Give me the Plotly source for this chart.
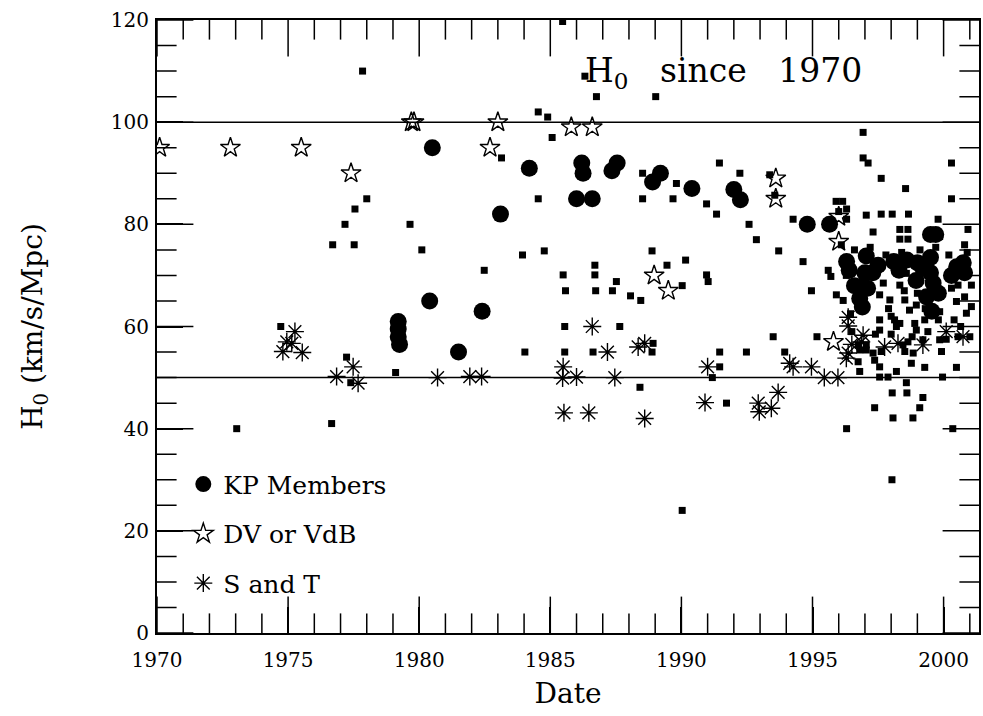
import plotly.graph_objects as go

# ---- data ----
others_x = [1977.84, 1978.0, 1977.55, 1977.17, 1979.65, 1976.7, 1977.52, 1980.1, 1974.72, 1977.23,
            1977.39, 1979.1, 1976.66, 1973.04, 1985.47, 1986.32, 1986.76, 1989.02, 1984.54, 1984.9,
            1985.07, 1983.14, 1984.54, 1988.52, 1988.52, 1989.68, 1989.81, 1990.96, 1991.34, 1991.45,
            1992.23, 1992.58, 1996.93, 1996.93, 1997.12, 1997.62, 1998.55, 2000.3, 2000.3, 1997.31,
            1997.62, 1998.04, 1998.66, 1997.05, 1999.79, 2000.93, 1994.26, 1993.37, 1993.56, 1998.33,
            1998.64, 1998.33, 1998.64, 2000.8, 1996.1, 1994.64, 1995.6, 1996.29, 1998.58, 1994.96,
            1995.91, 1996.17, 1996.55, 1997.56, 1997.95, 1998.52, 1998.33, 1998.96, 1999.85, 2000.49,
            2000.8, 2001.06, 1997.56, 1998.13, 1998.33, 1998.9, 1999.28, 2001.06, 1995.17, 1996.74,
            1997.05, 1997.31, 1997.62, 1998.52, 1996.74, 1997.37, 1997.56, 1998.77, 1999.28, 1999.92,
            2000.49, 1996.8, 1997.56, 1997.88, 1998.2, 1998.58, 1999.96, 1998.04, 1998.6, 1999.21,
            1997.37, 1999.09, 1998.07, 1998.83, 1996.3, 2000.35, 1998.03, 1991.72, 1990.03, 1992.86,
            1993.71, 1990.96, 1991.02, 1993.5, 1991.46, 1992.48, 1993.94, 1991.46, 1991.18, 1983.94,
            1984.77, 1982.48, 1985.49, 1985.58, 1986.7, 1986.7, 1986.73, 1987.52, 1987.37, 1988.06,
            1988.45, 1988.88, 1989.45, 1990.16, 1990.03, 1985.55, 1987.65, 1984.03, 1985.55, 1986.63,
            1988.92, 1988.88, 1988.42, 1995.7, 1998.0, 1998.7, 1999.8, 2000.4, 2000.55, 2000.87,
            1997.56, 1998.2, 1998.96, 1999.21, 1999.85, 1998.45, 1998.64, 1996.8, 1998.84, 1997.05,
            2000.55, 2001.0, 1999.85, 1995.9, 1996.15, 1996.3, 1996.0, 1996.3,
            1996.6, 1997.2, 1997.8, 1998.4, 1999.1, 1999.7, 2000.2, 2000.9, 1996.5, 1997.4,
            1998.0, 1998.8, 1999.4, 2000.1, 2000.65, 1996.9, 1997.7, 1998.5, 1999.0, 1999.6,
            2000.3, 1996.45, 1997.9, 1999.3]
others_y = [110, 85, 83, 80, 80, 76, 76, 75, 60, 54,
            49, 51, 41, 40, 119.7, 109, 105, 105, 102, 101,
            97, 93, 85, 90, 85, 85, 88, 84, 82, 92,
            90, 80, 98, 93, 92, 89, 87, 92, 85, 78.5,
            82, 82, 82, 81.8, 81, 79, 81, 89.7, 85.7, 79,
            79, 77.1, 77.1, 76, 76, 72.7, 71, 70, 70.4, 67,
            66.2, 65.1, 68.5, 66.2, 65.2, 65.2, 68.1, 64.2, 62.9, 64.9,
            65.8, 63.9, 61.3, 61.3, 60.6, 60.6, 61.3, 68.1, 58, 56.4,
            55.4, 54.8, 55.1, 55.1, 53.1, 53.4, 52.1, 52.8, 52, 55.1,
            52, 51.2, 50.1, 50.1, 51.2, 49, 50.1, 47, 47, 46.1,
            44.1, 44.1, 42.1, 42.1, 40, 40, 30, 45, 24, 77,
            74.8, 70.1, 68.8, 58, 55, 55, 55, 52.1, 50, 74,
            74.8, 71, 70.1, 67, 72, 70.1, 67, 68.8, 67, 66,
            65.1, 74.8, 72, 73, 68, 60, 60, 55, 55, 55,
            56.7, 55, 48.1, 69.8, 62, 63.2, 61.3, 61.3, 68.1, 62.6,
            59.3, 60, 59.3, 57.4, 57.4, 56.4, 57, 55.4, 54.8, 56.4,
            58, 58, 77.6, 84.5, 84.5, 83, 82.5, 81,
            75, 75.5, 74, 74.5, 75, 75.5, 74, 74.5, 59, 58.5,
            58.5, 58, 59, 57.5, 60, 69, 68.5, 67, 66.5, 66,
            67.5, 62.5, 63.5, 63.5]

kp_x = [1979.2, 1979.2, 1979.2, 1979.25, 1980.5, 1980.4, 1981.5, 1982.4, 1983.1, 1984.2,
        1986.2, 1986.25, 1986.0, 1986.6, 1987.35, 1987.55, 1988.9, 1989.2, 1990.4, 1992.0,
        1992.25, 1994.8, 1995.65, 1999.5, 1999.7, 1996.3, 1996.4, 1997.05, 1997.3, 1996.8,
        1996.9, 1997.1, 1998.1, 1998.3, 1999.0, 1999.5, 1999.5, 1999.6, 1999.35, 2000.5,
        2000.75, 2000.8, 1999.55, 1998.95, 1997.5, 1998.6, 1999.2, 2000.3, 1996.6, 1997.0,
        1999.8]
kp_y = [61, 59.5, 58, 56.5, 95, 65, 55, 63, 82, 91,
        92, 90, 85, 85, 90.5, 92, 88.3, 90, 87, 86.8,
        84.8, 80, 80, 78, 78, 72.7, 71, 73.8, 70.5, 65.5,
        63.8, 67.5, 72.7, 71, 72.5, 73.5, 70.5, 68.5, 65.8, 71.7,
        72.5, 70.5, 63, 69, 72, 73, 71.5, 70, 68, 70.5,
        66.5]

dv_x = [1970.1, 1972.8, 1975.5, 1977.4, 1979.7, 1979.8, 1982.7, 1983.0, 1985.8, 1986.6,
        1988.96, 1989.5, 1993.6, 1993.6, 1995.8, 1996.0, 1996.0]
dv_y = [95, 95, 95, 90, 100, 100, 95, 100, 99, 99,
        70, 67, 89, 85, 57, 76.6, 81.5]

st_x = [1975.26, 1974.95, 1975.14, 1974.8, 1975.54, 1976.85, 1977.48, 1977.67, 1980.7, 1981.93,
        1982.38, 1985.49, 1985.47, 1986.0, 1987.46, 1986.6, 1987.18, 1988.35, 1988.6, 1985.52,
        1986.47, 1988.6, 1991.0, 1990.9, 1994.13, 1994.26, 1994.96, 1995.45, 1995.97, 1993.69,
        1992.93, 1992.97, 1993.43, 1996.36, 1996.36, 1996.86, 1996.36, 1996.29, 1997.75, 1998.26,
        1999.21, 2000.1, 2000.74, 1996.5, 1996.93]
st_y = [59, 57, 56.7, 55.1, 54.9, 50.2, 52.1, 48.9, 50, 50.2,
        50.2, 52.1, 49.9, 50.1, 50, 60, 55, 56, 56.7, 43.1,
        43.1, 42, 52.1, 45.1, 52.8, 52.1, 52.1, 50, 50, 47.1,
        45, 43.3, 44, 61.8, 60.1, 57, 54.8, 53.8, 56, 56.7,
        56.4, 59, 58, 56.5, 58.3]

ref_lines = [100, 50]
x_range = [1970, 2001.35]
y_range = [0, 120]
x_major_step, x_minor_step = 5, 1
y_major_step, y_minor_step = 20, 5

FONT = "DejaVu Serif"
clear = "rgba(0,0,0,0)"

fig = go.Figure()

# ---- inward ticks on all four edges: line markers centred on the frame, clipped to the plot area ----
x_start, x_stop = int(x_range[0]), int(x_range[1])
x_major = [v for v in range(x_start, x_stop + 1, x_minor_step) if (v - x_start) % x_major_step == 0]
x_minor = [v for v in range(x_start, x_stop + 1, x_minor_step) if (v - x_start) % x_major_step != 0]
y_major = [v for v in range(int(y_range[0]), int(y_range[1]) + 1, y_minor_step) if v % y_major_step == 0]
y_minor = [v for v in range(int(y_range[0]), int(y_range[1]) + 1, y_minor_step) if v % y_major_step != 0]

MAJOR_SIZE, MINOR_SIZE = 52, 28   # twice the visible inner length, half is clipped away
for vals, size in ((x_major, MAJOR_SIZE), (x_minor, MINOR_SIZE)):
    fig.add_trace(go.Scatter(x=vals + vals, y=[y_range[0]] * len(vals) + [y_range[1]] * len(vals),
                             mode="markers", showlegend=False, hoverinfo="skip", cliponaxis=True,
                             marker=dict(symbol="line-ns-open", size=size, color="black",
                                         line=dict(width=1.5, color="black"))))
for vals, size in ((y_major, MAJOR_SIZE), (y_minor, MINOR_SIZE)):
    fig.add_trace(go.Scatter(x=[x_range[0]] * len(vals) + [x_range[1]] * len(vals), y=vals + vals,
                             mode="markers", showlegend=False, hoverinfo="skip", cliponaxis=True,
                             marker=dict(symbol="line-ew-open", size=size, color="black",
                                         line=dict(width=1.5, color="black"))))

# ---- data series ----
fig.add_trace(go.Scatter(x=others_x, y=others_y, mode="markers", showlegend=False,
                         marker=dict(symbol="square", size=7, color="black", line=dict(width=0))))
fig.add_trace(go.Scatter(x=kp_x, y=kp_y, mode="markers", name="KP Members", legendgroup="a",
                         marker=dict(symbol="circle", size=17, color="black", line=dict(width=0))))
fig.add_trace(go.Scatter(x=dv_x, y=dv_y, mode="markers", name="DV or VdB", legendgroup="b",
                         marker=dict(symbol="star-open", size=15, color="black",
                                     line=dict(width=1.4, color="black"))))
fig.add_trace(go.Scatter(x=st_x, y=st_y, mode="markers", name="S and T", legendgroup="c",
                         marker=dict(symbol="asterisk-open", size=15, color="black",
                                     line=dict(width=1.4, color="black"))))

for v in ref_lines:
    fig.add_hline(y=v, line=dict(color="black", width=1.5), layer="below")

tickfont = dict(family=FONT, size=20, color="black")

fig.update_xaxes(range=x_range, tickmode="linear", tick0=1970, dtick=x_major_step,
                 ticks="inside", ticklen=26, tickwidth=1.5, tickcolor="black",
                 ticklabelstandoff=8,
                 showline=True, linecolor="black", linewidth=2, mirror=True,
                 showgrid=False, zeroline=False, tickfont=tickfont, layer="above traces",
                 automargin=False,
                 title=dict(text="Date", font=dict(family=FONT, size=28, color="black"), standoff=12))
fig.update_yaxes(range=y_range, tickmode="linear", tick0=0, dtick=y_major_step,
                 ticks="inside", ticklen=26, tickwidth=1.5, tickcolor="black",
                 ticklabelstandoff=2,
                 showline=True, linecolor="black", linewidth=2, mirror=True,
                 showgrid=False, zeroline=False, tickfont=tickfont, layer="above traces",
                 automargin=False,
                 title=dict(text="H<sub>0</sub> (km/s/Mpc)", font=dict(family=FONT, size=28, color="black"),
                            standoff=60))

fig.add_annotation(xref="paper", yref="paper", x=0.518, y=0.915, xanchor="left", yanchor="middle",
                   text="H<sub>0</sub>   since   1970", showarrow=False,
                   font=dict(family=FONT, size=33, color="black"))

fig.update_layout(width=983, height=716, margin=dict(l=157, r=4, t=20, b=83),
                  plot_bgcolor="white", paper_bgcolor="white",
                  legend=dict(x=0.032, y=0.28, xanchor="left", yanchor="top", bgcolor=clear,
                              font=dict(family=FONT, size=25, color="black"), tracegroupgap=14,
                              itemsizing="trace"))

fig.write_html("out.html")
